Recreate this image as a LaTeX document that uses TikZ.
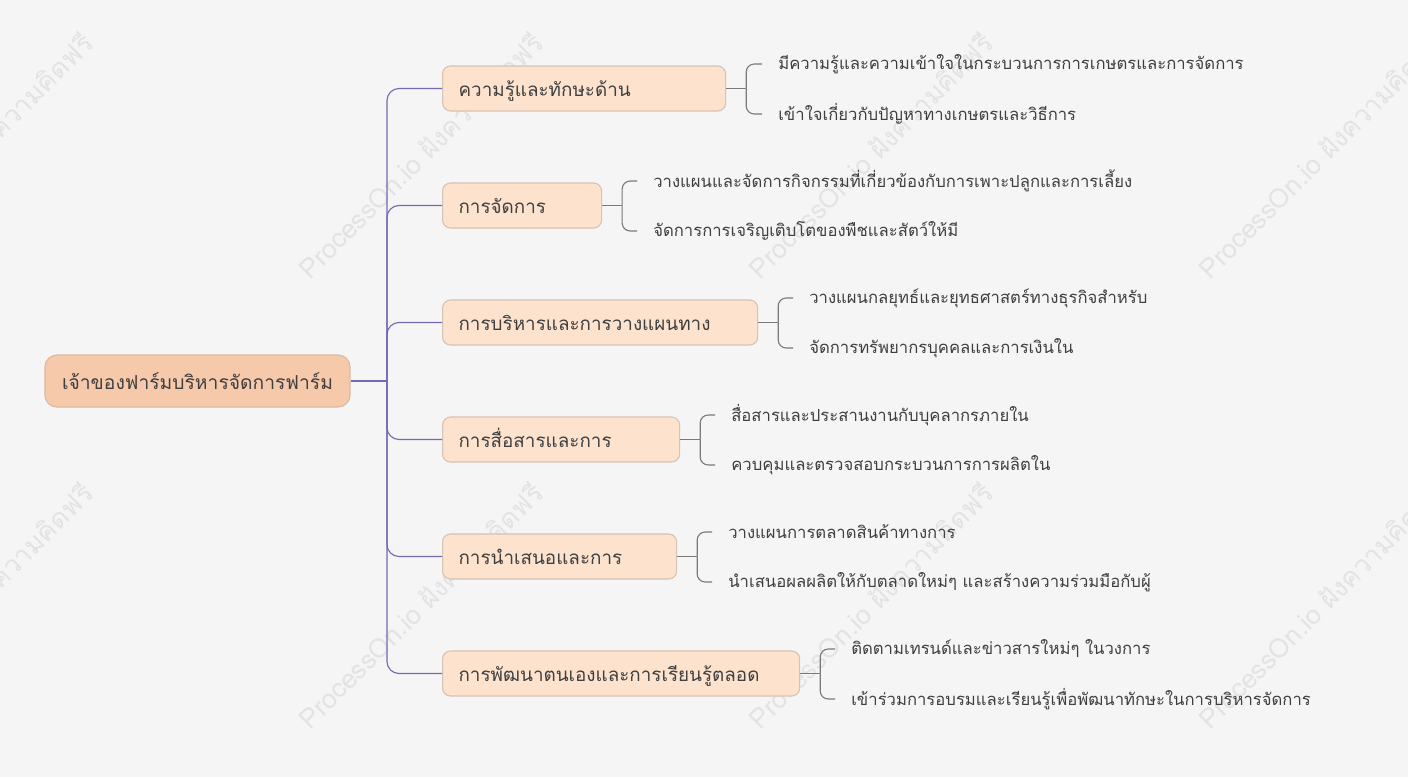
\documentclass[tikz,border=0pt]{standalone}
\usepackage{fontspec}
\newfontfamily\thaifont[Script=Thai]{Loma}
\usetikzlibrary{positioning}
\definecolor{bgcol}{HTML}{F5F5F5}
\definecolor{rootfill}{HTML}{F6C9AB}
\definecolor{rootline}{HTML}{DDB9A1}
\definecolor{subfill}{HTML}{FDE3CE}
\definecolor{subline}{HTML}{D8C2B4}
\definecolor{trunkcol}{HTML}{7569B1}
\definecolor{brkcol}{HTML}{7A7A7A}
\definecolor{txtcol}{HTML}{3F3F3F}
\definecolor{wmcol}{HTML}{E3E3E3}

\begin{document}
\begin{tikzpicture}[x=0.025cm,y=-0.025cm,font=\thaifont,
  root/.style={draw=rootline,fill=rootfill,rounded corners=0.3cm,line width=0.8pt,
               minimum height=1.3cm,minimum width=7.625cm,inner xsep=0.4cm,text=txtcol,
               text height=13pt,text depth=1pt,font=\thaifont\fontsize{13.7}{16}\selectfont},
  sub/.style={draw=subline,fill=subfill,rounded corners=0.2cm,line width=0.8pt,anchor=west,
              minimum height=1.125cm,inner xsep=0.4cm,align=left,text=txtcol,
              text height=13pt,text depth=1pt,font=\thaifont\fontsize{13.4}{16}\selectfont},
  leaf/.style={anchor=west,inner xsep=0.4cm,inner ysep=0pt,text=txtcol,
               font=\thaifont\fontsize{11.85}{14}\selectfont},
  trunk/.style={draw=trunkcol,line width=0.8pt,rounded corners=0.3cm},
  brk/.style={draw=brkcol,line width=0.8pt,rounded corners=0.2cm},
  wm/.style={text=wmcol,rotate=45,font=\thaifont\fontsize{19}{21}\selectfont}]
\useasboundingbox[fill=bgcol] (0,0) rectangle (1408,777);
% watermark
\foreach \wx/\wy [count=\i] in {-30/155,420/155,870/155,1320/155,-30/605,420/605,870/605,1320/605}
  \node[wm] (wm\i) at (\wx,\wy) {ProcessOn.io ฝังความคิดฟรี};
% root
\node[root] (root) at (197.5,381) {เจ้าของฟาร์มบริหารจัดการฟาร์ม};
\coordinate (hub) at (387,381);
% level 1
\node[sub,text width=6.275cm] (n1) at (442,88.5) {ความรู้และทักษะด้าน};
\node[sub,text width=3.175cm] (n2) at (442,205.5) {การจัดการ};
\node[sub,text width=7.075cm] (n3) at (442,322.5) {การบริหารและการวางแผนทาง};
\node[sub,text width=5.125cm] (n4) at (442,439.5) {การสื่อสารและการ};
\node[sub,text width=5.05cm] (n5) at (442,556.5) {การนำเสนอและการ};
\node[sub,text width=8.125cm] (n6) at (442,673.5) {การพัฒนาตนเองและการเรียนรู้ตลอด};
% level 2
\node[leaf] (l1a) at (762,64) {มีความรู้และความเข้าใจในกระบวนการการเกษตรและการจัดการ};
\node[leaf] (l1b) at (762,114) {เข้าใจเกี่ยวกับปัญหาทางเกษตรและวิธีการ};
\node[leaf] (l2a) at (637,181) {วางแผนและจัดการกิจกรรมที่เกี่ยวข้องกับการเพาะปลูกและการเลี้ยง};
\node[leaf] (l2b) at (637,231) {จัดการการเจริญเติบโตของพืชและสัตว์ให้มี};
\node[leaf] (l3a) at (793,298) {วางแผนกลยุทธ์และยุทธศาสตร์ทางธุรกิจสำหรับ};
\node[leaf] (l3b) at (793,348) {จัดการทรัพยากรบุคคลและการเงินใน};
\node[leaf] (l4a) at (715,415) {สื่อสารและประสานงานกับบุคลากรภายใน};
\node[leaf] (l4b) at (715,465) {ควบคุมและตรวจสอบกระบวนการการผลิตใน};
\node[leaf] (l5a) at (712,532) {วางแผนการตลาดสินค้าทางการ};
\node[leaf] (l5b) at (712,582) {นำเสนอผลผลิตให้กับตลาดใหม่ๆ และสร้างความร่วมมือกับผู้};
\node[leaf] (l6a) at (835,649) {ติดตามเทรนด์และข่าวสารใหม่ๆ ในวงการ};
\node[leaf] (l6b) at (835,699) {เข้าร่วมการอบรมและเรียนรู้เพื่อพัฒนาทักษะในการบริหารจัดการ};
% connectors
\draw[trunkcol,line width=0.8pt] (root.east) -- (hub);
\foreach \n in {n1,n2,n3,n4,n5,n6}
  \draw[trunk] (hub) |- (\n.west);
\foreach \n/\a/\b in {n1/l1a/l1b,n2/l2a/l2b,n3/l3a/l3b,n4/l4a/l4b,n5/l5a/l5b,n6/l6a/l6b}{
  \draw[brkcol,line width=0.8pt] (\n.east) -- ++(20,0) coordinate (\n j);
  \draw[brk] (\n j) |- (\a.west);
  \draw[brk] (\n j) |- (\b.west);
}
\end{tikzpicture}
\end{document}
